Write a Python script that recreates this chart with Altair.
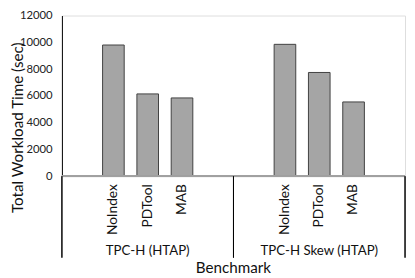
import altair as alt
import pandas as pd

groups = ["TPC-H (HTAP)", "TPC-H Skew (HTAP)"]
methods = ["NoIndex", "PDTool", "MAB"]
times_tpch = [9800, 6150, 5850]
times_skew = [9850, 7750, 5550]
y_ticks = [0, 2000, 4000, 6000, 8000, 10000, 12000]

W, H = 350, 164
FONT = "Lato"

# slot domain: one empty slot each side of the three methods in a group
slots = []
for g in groups:
    slots += [g + "|_a"] + [g + "|" + m for m in methods] + [g + "|_b"]

rows = []
for g, vals in zip(groups, [times_tpch, times_skew]):
    for m, v in zip(methods, vals):
        rows.append({"group": g, "method": m, "slot": g + "|" + m, "time": v})
df = pd.DataFrame(rows)
gdf = pd.DataFrame({"group": groups, "slot": [g + "|" + methods[1] for g in groups]})

xscale = alt.Scale(domain=slots, paddingInner=0.37, paddingOuter=0.185)
X = alt.X("slot:N", scale=xscale, axis=None)

bars = alt.Chart(df).mark_bar(fill="#a5a5a5", stroke="#3f3f3f", strokeWidth=1).encode(
    x=X,
    y=alt.Y("time:Q",
            scale=alt.Scale(domain=[0, 12000], nice=False),
            axis=alt.Axis(values=y_ticks, format="d", grid=False, ticks=False, labelPadding=10,
                          domainColor="#000000", labelColor="#222222", labelFontSize=11.5,
                          labelFont=FONT,
                          title="Total Workload Time (sec)", titleFont=FONT,
                          titleFontSize=15.5, titleFontWeight="normal", titleColor="#111111",
                          titleAngle=270, titleAlign="center", titleBaseline="middle",
                          titleX=-45, titleY=114)),
)

baseline = alt.Chart(df).mark_rule(color="#a0a0a0", strokeWidth=1.5).encode(
    x=alt.value(0), x2=alt.value(W), y=alt.value(H)
)

cat_labels = alt.Chart(df).mark_text(
    angle=270, align="right", baseline="middle", fontSize=14, font=FONT, color="#111111"
).encode(x=X, y=alt.value(H + 8), text="method:N")

grp_labels = alt.Chart(gdf).mark_text(
    align="center", baseline="middle", fontSize=13.5, font=FONT, color="#111111"
).encode(x=X, y=alt.value(H + 76), text="group:N")

dividers = [
    alt.Chart(gdf).mark_rule(color="#000000", strokeWidth=1).encode(
        x=alt.value(xv), y=alt.value(H), y2=alt.value(H + 83)
    )
    for xv in [0, W / 2, W]
]

xtitle = alt.Chart(pd.DataFrame({"t": ["Benchmark"]})).mark_text(
    align="center", baseline="middle", fontSize=15.5, font=FONT, color="#111111"
).encode(x=alt.value(W / 2), y=alt.value(H + 94), text="t:N")

chart = alt.layer(bars, baseline, cat_labels, grp_labels, *dividers, xtitle).properties(
    width=W, height=H,
    autosize=alt.AutoSizeParams(type="none"),
    padding={"left": 55, "top": 5, "right": 2, "bottom": 99},
).configure_view(stroke=None).configure(background="white")

chart.save("out.html", embed_options={"renderer": "svg", "actions": False})
